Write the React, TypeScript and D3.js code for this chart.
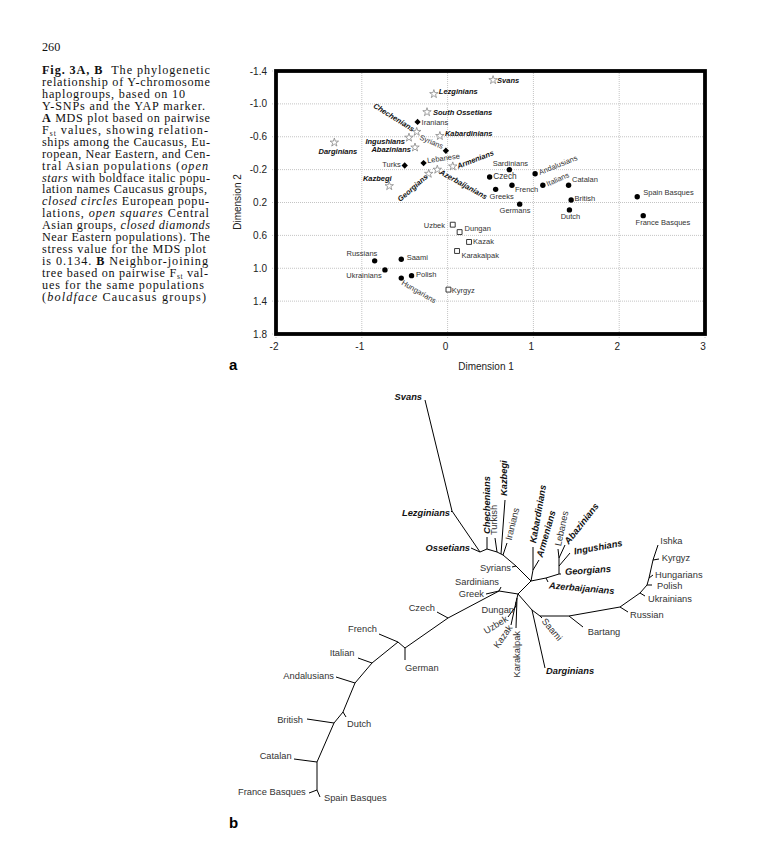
import React from 'react';
import * as d3 from 'd3';

// ---------- caption ----------
const pageNumber = '260';
// each line: segments [text, style]  (b = bold, i = italic, s = subscript)
const captionLines: [string, string][][] = [
  [['Fig. 3A, B', 'b'], ['\u00a0\u00a0The phylogenetic', '']],
  [['relationship of Y-chromosome', '']],
  [['haplogroups, based on 10', '']],
  [['Y-SNPs and the YAP marker.', '']],
  [['A', 'b'], [' MDS plot based on pairwise', '']],
  [['F', ''], ['st', 's'], [' values, showing relation-', '']],
  [['ships among the Caucasus, Eu-', '']],
  [['ropean, Near Eastern, and Cen-', '']],
  [['tral Asian populations (', ''], ['open', 'i']],
  [['stars', 'i'], [' with boldface italic popu-', '']],
  [['lation names Caucasus groups,', '']],
  [['closed circles', 'i'], [' European popu-', '']],
  [['lations, ', ''], ['open squares', 'i'], [' Central', '']],
  [['Asian groups, ', ''], ['closed diamonds', 'i']],
  [['Near Eastern populations). The', '']],
  [['stress value for the MDS plot', '']],
  [['is 0.134. ', ''], ['B', 'b'], [' Neighbor-joining', '']],
  [['tree based on pairwise F', ''], ['st', 's'], [' val-', '']],
  [['ues for the same populations', '']],
  [['(', ''], ['boldface', 'i'], [' Caucasus groups)', '']],
];
const captionWidths = [168, 168, 143, 163, 168, 166, 168, 168, 166, 168, 165, 167, 167, 168, 168, 164, 166, 166, 162, 164];

// ---------- panel a: MDS plot ----------
const xTicks = [-2, -1, 0, 1, 2, 3];
const yTicks = [-1.4, -1.0, -0.6, -0.2, 0.2, 0.6, 1.0, 1.4, 1.8];

// Caucasus groups (open stars)
const caucasusNames = ['Svans', 'Lezginians', 'South Ossetians', 'Chechenians', 'Kabardinians', 'Ingushians', 'Abazinians', 'Darginians', 'Armenians', 'Azerbaijanians', 'Georgians', 'Kazbegi'];
const caucasusDim1 = [0.53, -0.16, -0.24, -0.36, -0.09, -0.45, -0.38, -1.32, 0.06, -0.12, -0.22, -0.68];
const caucasusDim2 = [-1.29, -1.12, -0.90, -0.66, -0.61, -0.59, -0.47, -0.53, -0.24, -0.20, -0.15, 0.0];

// Near Eastern (closed diamonds)
const nearEastNames = ['Iranians', 'Syrians', 'Lebanese', 'Turks'];
const nearEastDim1 = [-0.35, -0.02, -0.28, -0.50];
const nearEastDim2 = [-0.78, -0.43, -0.28, -0.25];

// European (closed circles)
const europeNames = ['Sardinians', 'Czech', 'Andalusians', 'Greeks', 'French', 'Italians', 'Catalan', 'Germans', 'British', 'Dutch', 'Spain Basques', 'France Basques', 'Saami', 'Russians', 'Ukrainians', 'Polish', 'Hungarians'];
const europeDim1 = [0.72, 0.49, 1.02, 0.56, 0.75, 1.11, 1.41, 0.84, 1.44, 1.42, 2.21, 2.28, -0.54, -0.85, -0.73, -0.42, -0.54];
const europeDim2 = [-0.20, -0.11, -0.15, 0.04, -0.01, -0.01, -0.01, 0.22, 0.17, 0.29, 0.13, 0.36, 0.89, 0.91, 1.02, 1.09, 1.12];

// Central Asian (open squares)
const centralNames = ['Uzbek', 'Dungan', 'Kazak', 'Karakalpak', 'Kyrgyz'];
const centralDim1 = [0.06, 0.14, 0.25, 0.11, 0.01];
const centralDim2 = [0.47, 0.56, 0.68, 0.79, 1.26];

// label placement for panel a: [anchor, dx, dy, rotate]
const mdsLabelPlace: Record<string, [string, number, number, number]> = {
  'Svans': ['start', 4, 0, 0],
  'Lezginians': ['start', 5, -2.5, 0],
  'South Ossetians': ['start', 6, 0.5, 0],
  'Chechenians': ['end', -3, -2, 32],
  'Kabardinians': ['start', 5, -2.5, 0],
  'Ingushians': ['end', -4, 4, 0],
  'Abazinians': ['end', -4, 2.5, 0],
  'Darginians': ['middle', 3.5, 8.7, 0],
  'Armenians': ['start', 4.5, 0, -21],
  'Azerbaijanians': ['start', 3, 2, 29],
  'Georgians': ['end', -2, 2, -41],
  'Kazbegi': ['end', 2.4, -8, 0],
  'Iranians': ['start', 4, 1, 0],
  'Syrians': ['end', -3, -4, 23],
  'Lebanese': ['start', 3.5, -2.5, -8],
  'Turks': ['end', -4, -1, 0],
  'Sardinians': ['middle', 1, -6.6, 0],
  'Czech': ['start', 3.5, -0.7, 0],
  'Andalusians': ['start', 4, -1, -22],
  'Greeks': ['middle', 6, 6.7, 0],
  'French': ['start', 3, 4.7, 0],
  'Italians': ['start', 4, -1, -24],
  'Catalan': ['start', 3.4, -6, 0],
  'Germans': ['middle', -4.7, 6.3, 0],
  'British': ['start', 3.3, -1.3, 0],
  'Dutch': ['middle', 1, 6.6, 0],
  'Spain Basques': ['start', 6, -4, 0],
  'France Basques': ['start', -7.6, 7.3, 0],
  'Saami': ['start', 5.4, -1.6, 0],
  'Russians': ['end', 2.7, -7, 0],
  'Ukrainians': ['end', -3.3, 5.7, 0],
  'Polish': ['start', 4.4, -0.7, 0],
  'Hungarians': ['start', 1, 4, 30],
  'Uzbek': ['end', -7.7, 1.3, 0],
  'Dungan': ['start', 5, -4, 0],
  'Kazak': ['start', 4, -0.7, 0],
  'Karakalpak': ['start', 4.4, 4.3, 0],
  'Kyrgyz': ['start', 3.3, 0.7, 0],
};

// ---------- panel b: neighbor-joining tree ----------
// [node, parent, layout x, layout y]; internal nodes start with '#'
const treeBranches: [string, string, number, number][] = [
  ['#A', '', 0, 0],
  ['#B', '#A', -1.9, 0.3],
  ['Sardinians', '#B', -1.7, 0.7],
  ['Greek', '#B', -3.2, 0.0],
  ['#CZ', '#B', -7.0, -2.4],
  ['Czech', '#CZ', -8.1, -1.8],
  ['#GN', '#CZ', -11.3, -5.4],
  ['German', '#GN', -11.3, -6.6],
  ['#FN', '#GN', -12.0, -4.8],
  ['French', '#FN', -13.9, -4.0],
  ['#S', '#FN', -14.6, -6.9],
  ['Italian', '#S', -16.0, -6.4],
  ['#T', '#S', -16.3, -8.9],
  ['Andalusians', '#T', -18.2, -8.3],
  ['#U', '#T', -17.5, -11.8],
  ['Dutch', '#U', -17.2, -12.3],
  ['#V', '#U', -18.4, -12.9],
  ['British', '#V', -21.1, -12.5],
  ['#W', '#V', -20.1, -16.8],
  ['Catalan', '#W', -22.4, -16.5],
  ['#X', '#W', -20.1, -19.6],
  ['France Basques', '#X', -20.9, -19.9],
  ['Spain Basques', '#X', -19.8, -20.3],
  ['#C', '#A', 1.3, 1.3],
  ['#H', '#C', -0.2, 2.8],
  ['Syrians', '#H', -0.6, 2.7],
  ['#G2', '#H', -1.5, 3.9],
  ['Iranians', '#G2', -1.1, 5.1],
  ['#G1', '#G2', -1.7, 4.0],
  ['Kazbegi', '#G1', -1.3, 9.4],
  ['#F', '#G1', -2.1, 4.2],
  ['Turkish', '#F', -2.3, 5.6],
  ['#D', '#F', -3.1, 4.5],
  ['Chechenians', '#D', -3.1, 5.7],
  ['#E', '#D', -3.8, 4.2],
  ['Ossetians', '#E', -4.7, 4.6],
  ['#LZ', '#E', -6.6, 8.3],
  ['Lezginians', '#LZ', -6.7, 8.2],
  ['Svans', '#LZ', -9.3, 19.4],
  ['#I', '#C', 1.5, 2.4],
  ['Kabardinians', '#I', 1.5, 4.7],
  ['Armenians', '#I', 2.1, 3.4],
  ['#M', '#C', 2.8, 1.6],
  ['Azerbaijanians', '#M', 3.0, 1.2],
  ['#J', '#M', 4.1, 2.0],
  ['Georgians', '#J', 4.3, 2.0],
  ['#K', '#J', 4.1, 2.8],
  ['Ingushians', '#K', 5.2, 4.1],
  ['#L', '#K', 4.1, 3.6],
  ['Lebanes', '#L', 4.0, 4.5],
  ['Abazinians', '#L', 4.7, 4.9],
  ['#Q1', '#A', -0.1, -0.4],
  ['Karakalpak', '#Q1', -0.2, -3.4],
  ['#Q2', '#Q1', -0.2, -0.8],
  ['Kazak', '#Q2', -0.7, -3.1],
  ['#Q3', '#Q2', -0.2, -1.2],
  ['Dungan', '#Q3', -0.3, -1.3],
  ['Uzbek', '#Q3', -1.0, -2.3],
  ['#N', '#A', 1.4, -1.6],
  ['Darginians', '#N', 2.7, -7.4],
  ['#O', '#N', 2.2, -2.2],
  ['Saami', '#O', 2.4, -2.4],
  ['#BN', '#O', 5.1, -2.2],
  ['Bartang', '#BN', 6.5, -3.3],
  ['#RN', '#BN', 10.2, -1.3],
  ['Russian', '#RN', 11.0, -1.8],
  ['#UN', '#RN', 12.2, 0.1],
  ['Ukrainians', '#UN', 12.7, -0.2],
  ['#PN', '#UN', 12.9, 0.9],
  ['Polish', '#PN', 13.4, 0.9],
  ['#HN', '#PN', 13.1, 1.6],
  ['Hungarians', '#HN', 13.5, 1.9],
  ['#KN', '#HN', 13.5, 3.4],
  ['Kyrgyz', '#KN', 14.1, 3.5],
  ['Ishka', '#KN', 14.0, 4.9],
];
const treeCaucasus = ['Svans', 'Lezginians', 'Ossetians', 'Chechenians', 'Kazbegi', 'Kabardinians', 'Armenians', 'Abazinians', 'Ingushians', 'Georgians', 'Azerbaijanians', 'Darginians'];

const treeLabelPlace: Record<string, [string, number, number, number]> = {
  'Svans': ['end', -3, -3, 0],
  'Lezginians': ['end', -1, 0.5, 0],
  'Ossetians': ['end', -1, 0, 0],
  'Chechenians': ['start', 0, -3, -90],
  'Turkish': ['start', -1, -3, -90],
  'Kazbegi': ['start', -1.5, -4, -90],
  'Iranians': ['start', 1.5, -3, -76],
  'Kabardinians': ['start', 0, -4, -80],
  'Armenians': ['start', 0.5, -3, -74],
  'Lebanes': ['start', 0, -3, -78],
  'Abazinians': ['start', 1.5, -2, -52],
  'Ingushians': ['start', 4, -1.5, -10],
  'Georgians': ['start', 4, -2, -4],
  'Azerbaijanians': ['start', 1, 3.5, 5],
  'Syrians': ['end', -1, 0.5, 0],
  'Sardinians': ['end', -2, -5, 0],
  'Greek': ['end', -2, 0, 0],
  'Czech': ['end', -2, -4, 0],
  'German': ['start', 0, 8, 0],
  'French': ['end', -2, -5.5, 0],
  'Italian': ['end', -3.5, -5, 0],
  'Andalusians': ['end', -2, -1, 0],
  'British': ['end', -4, 1.4, 0],
  'Dutch': ['start', 1, 6.5, 0],
  'Catalan': ['end', -2.3, -2.6, 0],
  'France Basques': ['end', -3.3, -1, 0],
  'Spain Basques': ['start', 4, 1, 0],
  'Dungan': ['end', -1, 2.5, 0],
  'Uzbek': ['end', -1, 1, -32],
  'Kazak': ['end', -0.5, 1, -55],
  'Karakalpak': ['end', 0.5, 3, -90],
  'Saami': ['start', 1.5, 1.5, 50],
  'Darginians': ['start', 1, 2.5, 0],
  'Bartang': ['start', 4.7, 5.4, 0],
  'Russian': ['start', 2, 3.3, 0],
  'Ukrainians': ['start', 3, 3, 0],
  'Polish': ['start', 5, 1, 0],
  'Hungarians': ['start', 2, -0.5, 0],
  'Kyrgyz': ['start', 2.7, -0.7, 0],
  'Ishka': ['start', 2.3, -4, 0],
};

const SANS = 'Liberation Sans, Arial, Helvetica, sans-serif';
const SERIF = 'Liberation Serif, Times New Roman, serif';

function PlacedLabel(props: { x: number; y: number; text: string; place: [string, number, number, number]; size: number; bold?: boolean; fill?: string }) {
  const [anchor, dx, dy, rot] = props.place;
  return (
    <text
      transform={`translate(${props.x + dx},${props.y + dy}) rotate(${rot})`}
      textAnchor={anchor as any}
      dominantBaseline="central"
      fontFamily={SANS}
      fontSize={props.size}
      fontWeight={props.bold ? 'bold' : 'normal'}
      fontStyle={props.bold ? 'italic' : 'normal'}
      fill={props.fill || (props.bold ? '#111' : '#333')}
    >
      {props.text}
    </text>
  );
}

function Caption() {
  const lineY = d3.scaleLinear().domain([0, 19]).range([74, 301]);
  return (
    <g fontFamily={SERIF} fontSize={12.2} fill="#111">
      <text x={42} y={51}>{pageNumber}</text>
      {captionLines.map((segs, i) => {
        let shifted = false;
        return (
          <text key={i} x={42} y={lineY(i)} textLength={captionWidths[i]} lengthAdjust="spacing">
            {segs.map(([t, s], j) => {
              let dy = 0;
              if (s === 's') { dy = 2; shifted = true; }
              else if (shifted) { dy = -2; shifted = false; }
              return (
                <tspan key={j} dy={dy || undefined}
                  fontWeight={s === 'b' ? 'bold' : undefined}
                  fontStyle={s === 'i' ? 'italic' : undefined}
                  fontSize={s === 's' ? 7.5 : undefined}>{t}</tspan>
              );
            })}
          </text>
        );
      })}
    </g>
  );
}

function MdsPlot() {
  const x = d3.scaleLinear().domain([-2, 3]).range([276, 705]);
  const y = d3.scaleLinear().domain([-1.4, 1.8]).range([71, 334]);
  const star = d3.symbol().type(d3.symbolStar).size(22)() as string;
  const square = d3.symbol().type(d3.symbolSquare).size(24)() as string;
  const diamond = d3.symbol().type(d3.symbolSquare).size(20)() as string;
  const [x0, x1] = x.range();
  const [y0, y1] = y.range();

  const labels: JSX.Element[] = [];
  const addLabels = (names: string[], d1: number[], d2: number[], bold: boolean) =>
    names.forEach((n, i) =>
      labels.push(
        <PlacedLabel key={n} x={x(d1[i])} y={y(d2[i])} text={n} place={mdsLabelPlace[n]} size={n === 'Czech' ? 8.3 : 7.5} bold={bold} />
      )
    );
  addLabels(caucasusNames, caucasusDim1, caucasusDim2, true);
  addLabels(nearEastNames, nearEastDim1, nearEastDim2, false);
  addLabels(europeNames, europeDim1, europeDim2, false);
  addLabels(centralNames, centralDim1, centralDim2, false);

  return (
    <g>
      {/* grid */}
      <g stroke="#c4c4c4" strokeWidth={1} strokeDasharray="1 1">
        {xTicks.map(t => (
          <line key={'gx' + t} x1={x(t)} x2={x(t)} y1={y0} y2={y1 + 4} />
        ))}
        {yTicks.map(t => (
          <line key={'gy' + t} x1={x0 - 4} x2={x1} y1={y(t)} y2={y(t)} />
        ))}
      </g>
      {/* points */}
      {caucasusNames.map((n, i) => (
        <path key={'s' + n} d={star} transform={`translate(${x(caucasusDim1[i])},${y(caucasusDim2[i])})`} fill="#fff" stroke="#888" strokeWidth={0.8} />
      ))}
      {nearEastNames.map((n, i) => (
        <path key={'d' + n} d={diamond} transform={`translate(${x(nearEastDim1[i])},${y(nearEastDim2[i])}) rotate(45)`} fill="#000" />
      ))}
      {europeNames.map((n, i) => (
        <circle key={'c' + n} cx={x(europeDim1[i])} cy={y(europeDim2[i])} r={2.7} fill="#000" />
      ))}
      {centralNames.map((n, i) => (
        <path key={'q' + n} d={square} transform={`translate(${x(centralDim1[i])},${y(centralDim2[i])})`} fill="#fff" stroke="#222" strokeWidth={0.9} />
      ))}
      {labels}
      {/* frame */}
      <rect x={x0} y={y0} width={x1 - x0} height={y1 - y0} fill="none" stroke="#000" strokeWidth={3.8} />
      {/* tick labels */}
      <g fontFamily={SANS} fontSize={10} fill="#222">
        {xTicks.map(t => (
          <text key={'tx' + t} x={x(t) - 2} y={346} textAnchor="middle" dominantBaseline="central">{String(t)}</text>
        ))}
        {yTicks.map(t => (
          <text key={'ty' + t} x={267} y={y(t)} textAnchor="end" dominantBaseline="central">{t.toFixed(1)}</text>
        ))}
        <text x={486} y={366} textAnchor="middle" dominantBaseline="central">Dimension 1</text>
        <text transform="translate(237,202) rotate(-90)" textAnchor="middle" dominantBaseline="central">Dimension 2</text>
      </g>
      <text x={229} y={370} fontFamily={SANS} fontWeight="bold" fontSize={15}>a</text>
    </g>
  );
}

function NjTree() {
  const tx = d3.scaleLinear().domain([-30, 20]).range([218, 718]);
  const ty = d3.scaleLinear().domain([-25, 25]).range([844, 344]);
  const pos = new Map(treeBranches.map(([id, , a, b]) => [id, [tx(a), ty(b)]]));
  const link = d3.line();
  return (
    <g>
      <g stroke="#000" strokeWidth={1} fill="none">
        {treeBranches.filter(b => b[1]).map(([id, parent]) => (
          <path key={id} d={link([pos.get(parent) as [number, number], pos.get(id) as [number, number]]) as string} />
        ))}
      </g>
      {treeBranches.filter(b => !b[0].startsWith('#')).map(([id]) => {
        const [px, py] = pos.get(id) as [number, number];
        return <PlacedLabel key={id} x={px} y={py} text={id} place={treeLabelPlace[id]} size={9.3} bold={treeCaucasus.includes(id)} />;
      })}
      <text x={229} y={828} fontFamily={SANS} fontWeight="bold" fontSize={15}>b</text>
    </g>
  );
}

export default function App() {
  return (
    <div style={{ position: 'absolute', left: 0, top: 0, background: '#fff' }}>
      <svg width={770} height={848} viewBox="0 0 770 848" style={{ display: 'block' }}>
        <rect width={770} height={848} fill="#fff" />
        <Caption />
        <MdsPlot />
        <NjTree />
      </svg>
    </div>
  );
}
